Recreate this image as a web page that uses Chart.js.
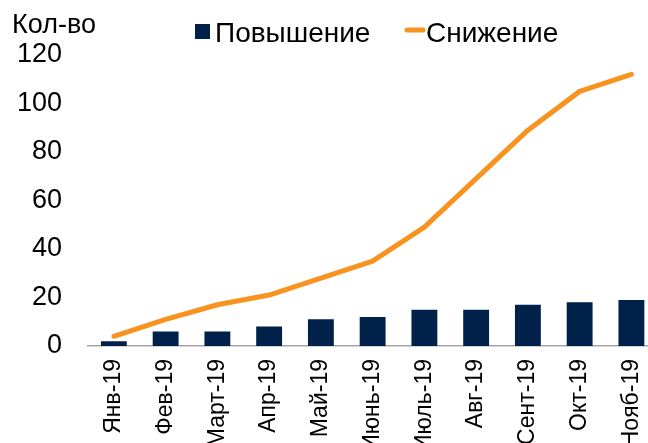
<!DOCTYPE html>
<html>
<head>
<meta charset="utf-8">
<script src="https://cdn.jsdelivr.net/npm/chart.js@4/dist/chart.umd.min.js"></script>
<style>
  html, body { margin: 0; padding: 0; background: #fff; overflow: hidden; width: 648px; height: 443px; }
  #wrap { position: absolute; left: 0; top: 0; width: 672px; height: 460px; }
</style>
</head>
<body>
<div id="wrap"><canvas id="c" width="672" height="460" style="width:672px;height:460px"></canvas></div>
<script>
// ---- data ----
const categories = ['Янв-19','Фев-19','Март-19','Апр-19','Май-19','Июнь-19','Июль-19','Авг-19','Сент-19','Окт-19','Нояб-19'];
const seriesNames = ['Повышение', 'Снижение'];
const increaseValues = [2, 6, 6, 8, 11, 12, 15, 15, 17, 18, 19];
const decreaseValues = [4, 11, 17, 21, 28, 35, 49, 69, 89, 105, 112];
const yTicks = [0, 20, 40, 60, 80, 100, 120];
const yTitle = 'Кол-во';

// ---- styles ----
const barColor = '#00214A';
const lineColor = '#F7931E';
const fontFamily = '"Liberation Sans", Arial, sans-serif';

const customLegend = {
  id: 'customLegend',
  afterDraw(chart) {
    const ctx = chart.ctx;
    ctx.save();
    ctx.textBaseline = 'alphabetic';
    ctx.textAlign = 'left';
    ctx.fillStyle = '#000';
    ctx.font = '27px ' + fontFamily;
    ctx.fillText(yTitle, 12, 33);
    ctx.font = '28px ' + fontFamily;
    // bar series legend
    ctx.fillStyle = barColor;
    ctx.fillRect(195, 24, 15, 15);
    ctx.fillStyle = '#000';
    ctx.fillText(seriesNames[0], 215, 42);
    // line series legend
    ctx.strokeStyle = lineColor;
    ctx.lineWidth = 5;
    ctx.lineCap = 'round';
    ctx.beginPath();
    ctx.moveTo(407, 30);
    ctx.lineTo(423, 30);
    ctx.stroke();
    ctx.fillText(seriesNames[1], 426, 42);
    ctx.restore();
  }
};

new Chart(document.getElementById('c'), {
  data: {
    labels: categories,
    datasets: [
      {
        type: 'line',
        label: seriesNames[1],
        data: decreaseValues,
        borderColor: lineColor,
        backgroundColor: lineColor,
        borderWidth: 5,
        pointRadius: 0,
        tension: 0,
        borderJoinStyle: 'round',
        borderCapStyle: 'round',
        order: 0
      },
      {
        type: 'bar',
        label: seriesNames[0],
        data: increaseValues,
        backgroundColor: barColor,
        borderWidth: 0,
        barPercentage: 0.5,
        categoryPercentage: 1.0,
        order: 1
      }
    ]
  },
  options: {
    responsive: false,
    animation: false,
    devicePixelRatio: 1,
    layout: { padding: { top: 55, left: 0, right: 0, bottom: 0 } },
    plugins: {
      legend: { display: false },
      tooltip: { enabled: false },
      title: { display: false }
    },
    scales: {
      x: {
        offset: true,
        grid: { display: false, drawTicks: false },
        border: { display: true, color: '#a6a6a6', width: 1.5 },
        ticks: {
          autoSkip: false,
          minRotation: 90,
          maxRotation: 90,
          padding: 13,
          color: '#000',
          font: { family: fontFamily, size: 23 }
        },
        afterFit(scale) { scale.height = 460 - 346; }
      },
      y: {
        min: 0,
        max: 120,
        afterBuildTicks(scale) { scale.ticks = yTicks.map(v => ({ value: v })); },
        grid: { display: false, drawTicks: false },
        border: { display: false },
        ticks: {
          padding: 26,
          color: '#000',
          font: { family: fontFamily, size: 27 }
        },
        afterFit(scale) { scale.width = 88; }
      }
    }
  },
  plugins: [customLegend]
});
</script>
</body>
</html>
